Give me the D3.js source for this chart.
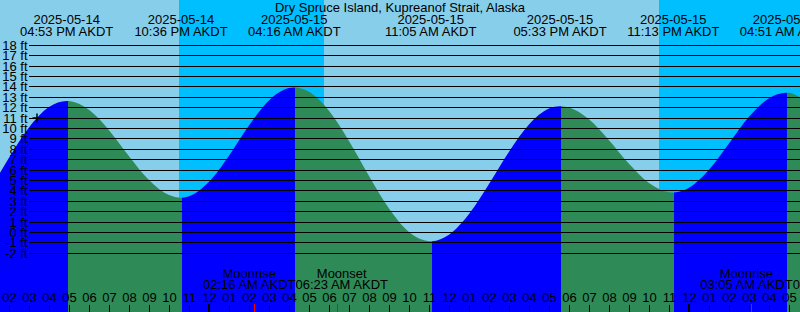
<!DOCTYPE html>
<html><head><meta charset="utf-8">
<script src="https://cdn.jsdelivr.net/npm/d3@7"></script>
<style>
body{margin:0;overflow:hidden;background:#87CEEB}
svg{display:block;font-family:"Liberation Sans",Arial,Helvetica,sans-serif}
</style>
</head><body>
<svg id="c" width="800" height="312"></svg>
<script>
// ---- data (AKDT wall-clock times, stored as UTC strings) ----
const title = "Dry Spruce Island, Kupreanof Strait, Alaska";
const viewStart = "2025-05-14T13:33";
const viewEnd = "2025-05-16T05:33";

const tideTimes   = ["2025-05-14T10:20","2025-05-14T16:53","2025-05-14T22:36","2025-05-15T04:16","2025-05-15T11:05","2025-05-15T17:33","2025-05-15T23:13","2025-05-16T04:51","2025-05-16T11:30"];
const tideHeights = [-0.8, 12.6, 3.3, 13.9, -0.9, 12.1, 3.8, 13.4, -1.0];
const tideTypes   = ["low","high","low","high","low","high","low","high","low"];

// hourly heights, starting 2025-05-14 13:00
const hourlyStart = "2025-05-14T13:00";
const hourlyHeights = [3.97,7.15,10.05,12.01,12.59,11.75,9.79,7.29,4.99,3.55,
  3.43,4.82,7.34,10.24,12.65,13.84,13.48,11.66,8.76,5.39,
  2.26,0.00,-0.89,-0.27,1.72,4.61,7.72,10.34,11.87,11.97,
  10.83,8.83,6.56,4.71,3.83,4.25,5.98,8.51,11.07,12.87,
  13.38,12.36];

const sunsets  = ["2025-05-14T22:30","2025-05-15T22:30"];
const sunrises = ["2025-05-15T05:45","2025-05-16T05:43"];

const moonNames = ["Moonrise","Moonset","Moonrise","Moonset"];
const moonTimes = ["2025-05-15T02:16","2025-05-15T06:23","2025-05-16T03:05","2025-05-16T07:17"];

const yTicks = [18,17,16,15,14,13,12,11,10,9,8,7,6,5,4,3,2,1,0,-1,-2];

const markTime = "2025-05-14T15:24";
const markHeight = 10.95;

// ---- styles ----
const W = 800, H = 312;
const FS = 13;
const C_DAY = "#87CEEB", C_NIGHT = "#00BFFF", C_FLOOD = "#0000FF", C_EBB = "#2E8B57";

const parse = d3.utcParse("%Y-%m-%dT%H:%M");
const svg = d3.select("#c");

const x = d3.scaleUtc().domain([parse(viewStart), parse(viewEnd)]).range([0, W]);
const y = d3.scaleLinear().domain([-2, 18]).range([252.8, 44.8]);

// background
svg.append("rect").attr("x",0).attr("y",0).attr("width",W).attr("height",H).attr("fill",C_DAY);
sunsets.forEach((s,i)=>{
  const x0 = Math.round(x(parse(s))), x1 = Math.round(x(parse(sunrises[i])));
  svg.append("rect").attr("x",x0).attr("y",0).attr("width",x1-x0).attr("height",H)
    .attr("fill",C_NIGHT).attr("shape-rendering","crispEdges");
});

// tide series
const t0 = parse(hourlyStart);
let pts = hourlyHeights.map((h,i)=>({t:d3.utcHour.offset(t0,i), h}));
tideTimes.forEach((s,i)=>pts.push({t:parse(s), h:tideHeights[i]}));
pts.sort((a,b)=>a.t-b.t);

const area = d3.area().x(d=>x(d.t)).y0(H).y1(d=>y(d.h)).curve(d3.curveMonotoneX);
const defs = svg.append("defs");
for (let i=0;i<tideTimes.length-1;i++){
  const xa = Math.round(x(parse(tideTimes[i])))+1, xb = Math.round(x(parse(tideTimes[i+1])))+1;
  defs.append("clipPath").attr("id","seg"+i).append("rect")
    .attr("x",xa).attr("y",0).attr("width",xb-xa).attr("height",H);
  svg.append("path").datum(pts).attr("d",area)
    .attr("fill", tideTypes[i]==="low" ? C_FLOOD : C_EBB)
    .attr("clip-path","url(#seg"+i+")");
}

// gridlines + y labels
const gy = svg.append("g");
yTicks.forEach(v=>{
  const yy = Math.round(y(v)) + 0.5;
  gy.append("line").attr("x1",29).attr("x2",W).attr("y1",yy).attr("y2",yy)
    .attr("stroke","#000").attr("stroke-width",1).attr("shape-rendering","crispEdges");
  gy.append("text").attr("x",27.5).attr("y",yy+4).attr("text-anchor","end")
    .attr("font-size",FS).attr("fill","#000").text(v+" ft");
});

// title
svg.append("text").attr("x",W/2).attr("y",12).attr("text-anchor","middle")
  .attr("font-size",FS).attr("fill","#000").text(title);

// tide event labels
const fDate = d3.utcFormat("%Y-%m-%d"), fTime = d3.utcFormat("%I:%M %p AKDT");
tideTimes.forEach((s,i)=>{
  const d = parse(s), xx = x(d);
  if (xx < -60 || xx > W+60) return;
  svg.append("text").attr("x",xx).attr("y",24).attr("text-anchor","middle")
    .attr("font-size",FS).attr("fill","#000").text(fDate(d));
  svg.append("text").attr("x",xx).attr("y",36).attr("text-anchor","middle")
    .attr("font-size",FS).attr("fill","#000").text(fTime(d));
});

// hour ticks + labels
const hours = x.ticks(d3.utcHour.every(1));
const gx = svg.append("g");
hours.forEach(d=>{
  const xx = Math.round(x(d));
  const mid = d.getUTCHours()===0;
  gx.append("rect").attr("x", mid ? xx-1 : xx).attr("y", mid ? 304 : 305)
    .attr("width", mid ? 2 : 1).attr("height", mid ? 8 : 7).attr("fill","#000")
    .attr("shape-rendering","crispEdges");
  gx.append("text").attr("x",x(d)+0.5).attr("y",301.5).attr("text-anchor","middle")
    .attr("font-size",FS).attr("fill","#000").text(d3.utcFormat("%I")(d));
});

// moon ticks
moonTimes.forEach(s=>{
  const xx = Math.round(x(parse(s)));
  svg.append("rect").attr("x",xx).attr("y",304).attr("width",1).attr("height",8)
    .attr("fill","#FF0000").attr("shape-rendering","crispEdges");
});

// moon labels with overlap avoidance
const moonG = svg.append("g");
const ml = moonTimes.map((s,i)=>{
  const d = parse(s);
  const g = moonG.append("g");
  const a = g.append("text").attr("y",278).attr("text-anchor","middle").attr("font-size",FS).attr("fill","#000").text(moonNames[i]);
  const b = g.append("text").attr("y",289).attr("text-anchor","middle").attr("font-size",FS).attr("fill","#000").text(fTime(d));
  const w = Math.max(a.node().getComputedTextLength(), b.node().getComputedTextLength());
  return {c:x(d), w, a, b};
});
ml.sort((p,q)=>p.c-q.c);
for (let it=0; it<20; it++){
  for (let i=0;i<ml.length-1;i++){
    const need = (ml[i].w + ml[i+1].w)/2, gap = ml[i+1].c - ml[i].c;
    if (gap < need){ const p=(need-gap)/2; ml[i].c-=p; ml[i+1].c+=p; }
  }
}
ml.forEach(m=>{ m.a.attr("x",m.c); m.b.attr("x",m.c); });

// current-time mark
const mx = x(parse(markTime)), my = y(markHeight);
svg.append("path").attr("d",`M${mx-4.5},${my}H${mx+4.5}M${mx},${my-4.5}V${my+4.5}`)
  .attr("stroke","#000").attr("stroke-width",1.5).attr("fill","none");
</script>
</body></html>
